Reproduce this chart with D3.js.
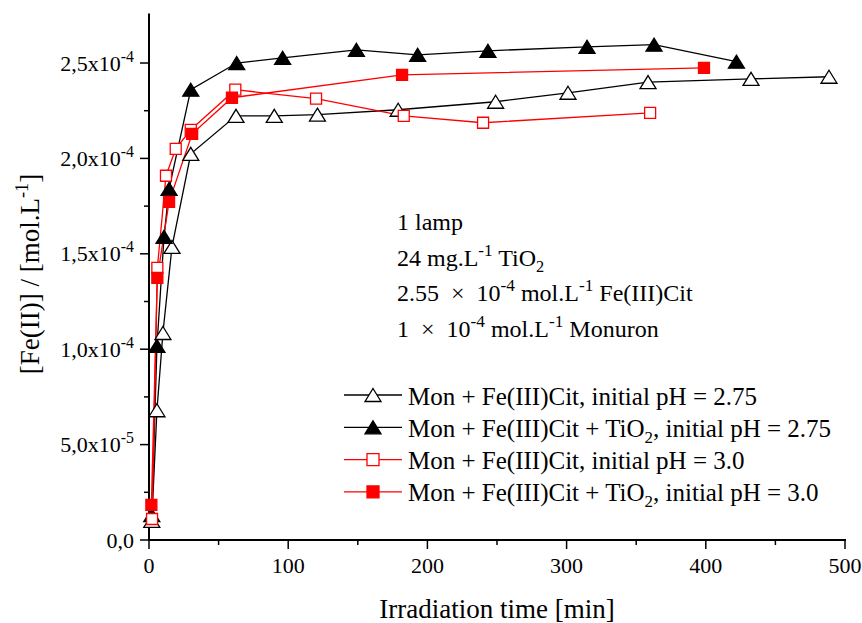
<!DOCTYPE html>
<html>
<head>
<meta charset="utf-8">
<script src="https://cdn.jsdelivr.net/npm/d3@7"></script>
<style>
  html, body { margin: 0; padding: 0; background: #fff; }
  svg { display: block; font-family: "Liberation Serif", "Times New Roman", serif; }
</style>
</head>
<body>
<svg id="chart" width="862" height="623"></svg>
<script>
// Fe(II) formation under irradiation — four experimental series
const openTriTime  = [2, 5.7, 10, 16.5, 30, 62.5, 90, 121, 179, 249, 301, 358.5, 432.5, 488.5];
const openTriFe    = [1.0e-5, 6.8e-5, 1.085e-4, 1.536e-4, 2.024e-4, 2.223e-4, 2.223e-4, 2.229e-4, 2.255e-4, 2.297e-4, 2.344e-4, 2.40e-4, 2.417e-4, 2.428e-4];

const fullTriTime  = [2, 5.7, 10.8, 14.4, 30, 63, 96, 149, 193, 243.5, 314.7, 362.8, 422];
const fullTriFe    = [1.3e-5, 1.017e-4, 1.589e-4, 1.84e-4, 2.36e-4, 2.50e-4, 2.527e-4, 2.569e-4, 2.543e-4, 2.564e-4, 2.585e-4, 2.596e-4, 2.507e-4];

const openSqTime   = [2.2, 6, 12.2, 19.2, 30, 62, 120, 183, 240, 360];
const openSqFe     = [1.1e-5, 1.426e-4, 1.909e-4, 2.05e-4, 2.15e-4, 2.36e-4, 2.313e-4, 2.223e-4, 2.187e-4, 2.239e-4];

const fullSqTime   = [1.7, 6, 14.4, 31, 59.6, 181.8, 398.7];
const fullSqFe     = [1.84e-5, 1.374e-4, 1.772e-4, 2.129e-4, 2.318e-4, 2.438e-4, 2.475e-4];

const xTicks = [0, 100, 200, 300, 400, 500];
const yTicks = [0, 5e-5, 1e-4, 1.5e-4, 2e-4, 2.5e-4];
const yTickLabels = [["0,0", ""], ["5,0x10", "-5"], ["1,0x10", "-4"], ["1,5x10", "-4"], ["2,0x10", "-4"], ["2,5x10", "-4"]];

const legendLabels = [
  [{t: "Mon + Fe(III)Cit, initial pH = 2.75"}],
  [{t: "Mon + Fe(III)Cit + TiO"}, {t: "2", sub: true}, {t: ", initial pH = 2.75"}],
  [{t: "Mon + Fe(III)Cit, initial pH = 3.0"}],
  [{t: "Mon + Fe(III)Cit + TiO"}, {t: "2", sub: true}, {t: ", initial pH = 3.0"}]
];
const noteLines = [
  [{t: "1 lamp"}],
  [{t: "24 mg.L"}, {t: "-1", sup: true}, {t: " TiO"}, {t: "2", sub: true}],
  [{t: "2.55 "}, {t: "\u00d7 ", dx: 6}, {t: "10", dx: 6}, {t: "-4", sup: true}, {t: " mol.L"}, {t: "-1", sup: true}, {t: " Fe(III)Cit"}],
  [{t: "1 "}, {t: "\u00d7 ", dx: 6}, {t: "10", dx: 6}, {t: "-4", sup: true}, {t: " mol.L"}, {t: "-1", sup: true}, {t: " Monuron"}]
];

const series = [
  {time: openTriTime, fe: openTriFe, color: "#000", shape: "tri", fill: "#fff"},
  {time: fullTriTime, fe: fullTriFe, color: "#000", shape: "tri", fill: "#000"},
  {time: openSqTime,  fe: openSqFe,  color: "#ff0000", shape: "sq", fill: "#fff"},
  {time: fullSqTime,  fe: fullSqFe,  color: "#ff0000", shape: "sq", fill: "#ff0000"}
];

const svg = d3.select("#chart");
const x = d3.scaleLinear().domain([0, 500]).range([149, 845]);
const y = d3.scaleLinear().domain([0, 2.76e-4]).range([540, 13.4]);

function richText(sel, parts, size, supScale = 0.68) {
  parts.forEach(p => {
    const ts = sel.append("tspan").text(p.t);
    if (p.dx) ts.attr("dx", p.dx);
    if (p.sup) { ts.attr("font-size", size * supScale).attr("baseline-shift", size * 0.4); }
    if (p.sub) { ts.attr("font-size", size * 0.68).attr("baseline-shift", -size * 0.25); }
  });
}

function markerPath(shape, w, h) {
  if (shape === "tri") {
    return `M0,${-h / 2}L${w / 2},${h / 2}L${-w / 2},${h / 2}Z`;
  }
  return `M${-w / 2},${-h / 2}h${w}v${h}h${-w}Z`;
}

// Axes
const axisG = svg.append("g").attr("stroke", "#000").attr("fill", "none");
axisG.append("line").attr("x1", x(0)).attr("x2", x(0)).attr("y1", y.range()[1]).attr("y2", y(0) + 1)
  .attr("stroke-width", 2);
axisG.append("line").attr("x1", x(0) - 1).attr("x2", x(500) + 1).attr("y1", y(0)).attr("y2", y(0))
  .attr("stroke-width", 2);

// x ticks: major + minor
d3.range(0, 501, 50).forEach(v => {
  const major = v % 100 === 0;
  axisG.append("line").attr("x1", x(v)).attr("x2", x(v))
    .attr("y1", y(0)).attr("y2", y(0) + (major ? 9 : 5)).attr("stroke-width", 1.5);
});
// y ticks: major + minor
d3.range(0, 11).map(i => i * 2.5e-5).forEach((v, i) => {
  const major = i % 2 === 0;
  axisG.append("line").attr("x1", x(0)).attr("x2", x(0) - (major ? 9 : 5))
    .attr("y1", y(v)).attr("y2", y(v)).attr("stroke-width", 1.5);
});

svg.append("g").selectAll("text").data(xTicks).join("text")
  .attr("x", d => x(d)).attr("y", y(0) + 33)
  .attr("text-anchor", "middle").attr("font-size", 22).attr("fill", "#000")
  .text(d => d);

yTicks.forEach((v, i) => {
  const t = svg.append("text").attr("x", 134).attr("y", y(v) + 7.5)
    .attr("text-anchor", "end").attr("font-size", 22).attr("fill", "#000");
  const [base, exp] = yTickLabels[i];
  const parts = exp ? [{t: base}, {t: exp, sup: true}] : [{t: base}];
  richText(t, parts, 22, 0.72);
});

// Axis titles
svg.append("text").attr("x", 497).attr("y", 618).attr("text-anchor", "middle")
  .attr("font-size", 27).attr("fill", "#000").text("Irradiation time [min]");
const yt = svg.append("text").attr("transform", "translate(39,274) rotate(-90)")
  .attr("text-anchor", "middle").attr("font-size", 27).attr("fill", "#000");
richText(yt, [{t: "[Fe(II)] / [mol.L"}, {t: "-1", sup: true}, {t: "]"}], 27);

// Series
const line = d3.line().x(d => x(d[0])).y(d => y(d[1]));
series.forEach(s => {
  const pts = s.time.map((t, i) => [t, s.fe[i]]);
  svg.append("path").datum(pts).attr("d", line)
    .attr("fill", "none").attr("stroke", s.color).attr("stroke-width", 1.3);
});
series.forEach(s => {
  const pts = s.time.map((t, i) => [t, s.fe[i]]);
  const w = s.shape === "tri" ? 16 : 11;
  const h = s.shape === "tri" ? 13 : 11;
  svg.append("g").selectAll("path").data(pts).join("path")
    .attr("transform", d => `translate(${x(d[0])},${y(d[1])})`)
    .attr("d", markerPath(s.shape, w, h))
    .attr("fill", s.fill).attr("stroke", s.color).attr("stroke-width", 1.3);
});

// Experimental conditions
noteLines.forEach((parts, i) => {
  const t = svg.append("text").attr("x", 397).attr("y", 230 + i * 35.5)
    .attr("font-size", 24).attr("fill", "#000");
  richText(t, parts, 24, 0.72);
});

// Legend
legendLabels.forEach((parts, i) => {
  const s = series[i];
  const cy = 395 + i * 32.3;
  svg.append("line").attr("x1", 344).attr("x2", 402).attr("y1", cy).attr("y2", cy)
    .attr("stroke", s.color).attr("stroke-width", 1.3);
  const w = s.shape === "tri" ? 16 : 12;
  const h = s.shape === "tri" ? 13 : 12;
  svg.append("path").attr("transform", `translate(373,${cy})`)
    .attr("d", markerPath(s.shape, w, h))
    .attr("fill", s.fill).attr("stroke", s.color).attr("stroke-width", 1.3);
  const t = svg.append("text").attr("x", 408).attr("y", cy + 9.5)
    .attr("font-size", 25).attr("fill", "#000");
  richText(t, parts, 25);
});
</script>
</body>
</html>
